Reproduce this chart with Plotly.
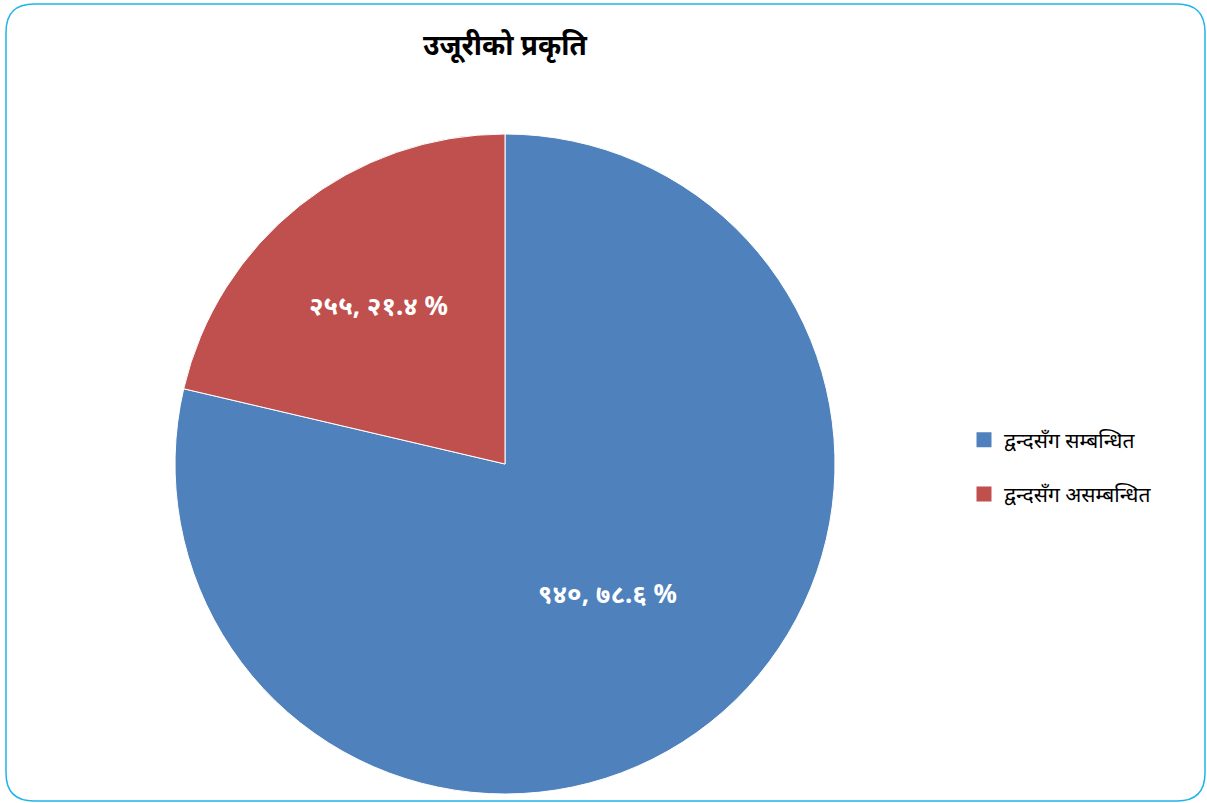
import plotly.graph_objects as go

# data
labels = ["द्वन्दसँग सम्बन्धित", "द्वन्दसँग असम्बन्धित"]
counts = [940, 255]
count_text = ["९४०", "२५५"]
pct_text = ["७८.६", "२१.४"]
colors = ["#4F81BD", "#C0504D"]

W, H = 1207, 803
FONT = "Noto Sans, DejaVu Sans, sans-serif"

fig = go.Figure(
    go.Pie(
        labels=labels,
        values=counts,
        text=[f"<b>{c}, {p} %</b>" for c, p in zip(count_text, pct_text)],
        textinfo="text",
        textposition="inside",
        insidetextorientation="horizontal",
        textfont=dict(color="white", size=26, family=FONT),
        marker=dict(colors=colors, line=dict(color="white", width=1)),
        sort=False,
        direction="clockwise",
        rotation=0,
        domain=dict(x=[175 / W, 835 / W], y=[9 / H, 669 / H]),
        hoverinfo="label+value+percent",
        showlegend=False,
    )
)

# legend entries as empty marker traces so the rows can be spaced apart
for lab, col in zip(labels, colors):
    fig.add_trace(
        go.Scatter(
            x=[None],
            y=[None],
            mode="markers",
            name=lab,
            legendgroup=lab,
            marker=dict(symbol="square", size=15, color=col),
        )
    )

# rounded border around the whole chart area
x0, x1 = 6 / W, 1205 / W
y0, y1 = 1 - 801 / H, 1 - 4 / H
rx, ry = 28 / W, 28 / H
path = (
    f"M {x0 + rx} {y1} L {x1 - rx} {y1} Q {x1} {y1} {x1} {y1 - ry} "
    f"L {x1} {y0 + ry} Q {x1} {y0} {x1 - rx} {y0} "
    f"L {x0 + rx} {y0} Q {x0} {y0} {x0} {y0 + ry} "
    f"L {x0} {y1 - ry} Q {x0} {y1} {x0 + rx} {y1} Z"
)

fig.update_layout(
    width=W,
    height=H,
    margin=dict(l=0, r=0, t=0, b=0),
    paper_bgcolor="white",
    plot_bgcolor="white",
    font=dict(family=FONT, color="black"),
    xaxis=dict(visible=False),
    yaxis=dict(visible=False),
    title=dict(
        text="<b>उजूरीको प्रकृति</b>",
        x=505 / W,
        xanchor="center",
        y=1 - 45 / H,
        yanchor="middle",
        font=dict(size=28, family=FONT, color="black"),
    ),
    legend=dict(
        x=964 / W,
        y=1 - 467 / H,
        xanchor="left",
        yanchor="middle",
        itemwidth=30,
        tracegroupgap=24,
        font=dict(size=21, family=FONT, color="black"),
        bgcolor="rgba(0,0,0,0)",
    ),
    shapes=[
        dict(
            type="path",
            path=path,
            xref="paper",
            yref="paper",
            line=dict(color="#1FB4EA", width=1.5),
            layer="above",
        )
    ],
)

fig.write_html(
    "out.html",
    config={"displayModeBar": False},
    post_script="document.body.style.margin='0px';",
)
